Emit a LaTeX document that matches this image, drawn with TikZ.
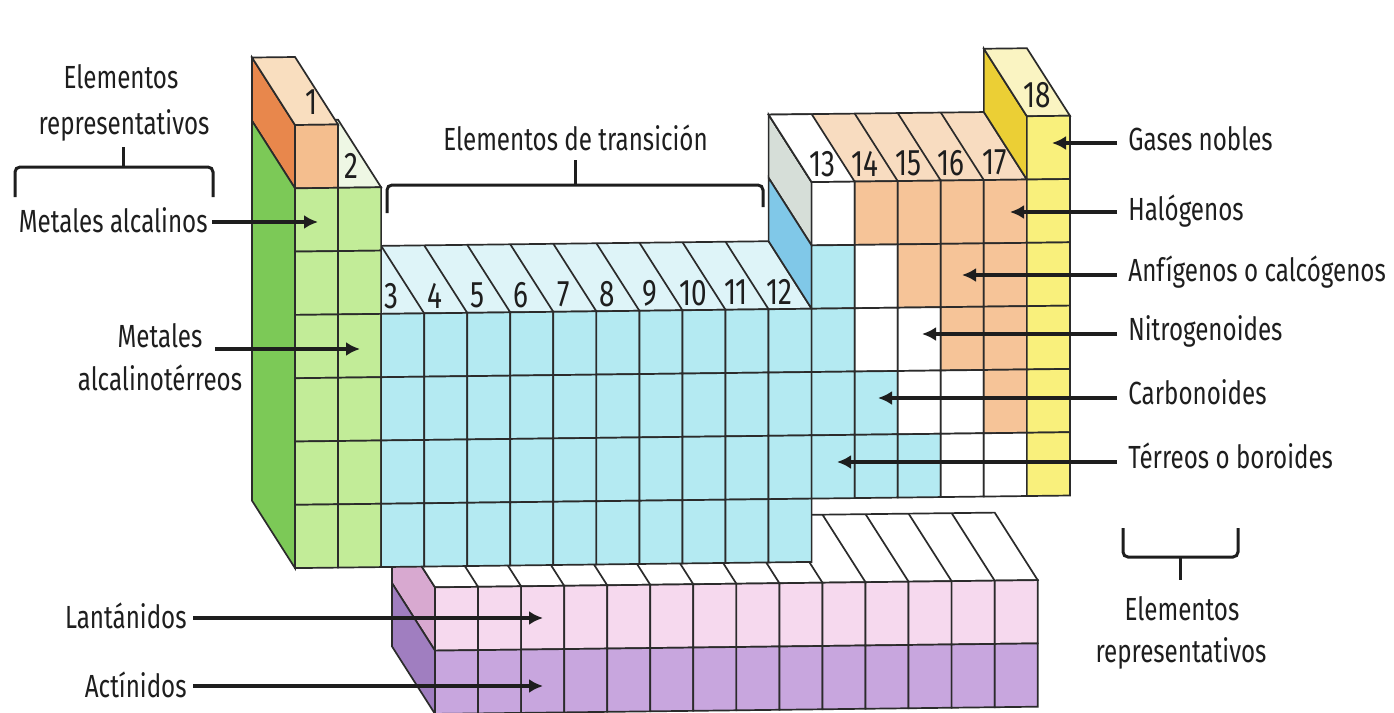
\documentclass[tikz,border=0pt]{standalone}
\usepackage{fontspec}
\setmainfont{Fira Sans}[FakeStretch=0.755]
\usetikzlibrary{arrows.meta}
\pgfmathdeclarefunction{cx}{1}{\pgfmathparse{295+43.05*(#1-1)}}
\pgfmathdeclarefunction{ry}{1}{\pgfmathparse{125+63.3*(#1-1)}}
\definecolor{gfront}{HTML}{C2EC98}
\definecolor{gside}{HTML}{7CC957}
\definecolor{hfront}{HTML}{F4BE8E}
\definecolor{hside}{HTML}{E8874C}
\definecolor{htop}{HTML}{F9DEBF}
\definecolor{gtop}{HTML}{EEF7E4}
\definecolor{cfront}{HTML}{B4EAF2}
\definecolor{ctop}{HTML}{DEF4F8}
\definecolor{cside}{HTML}{80C8E8}
\definecolor{wside}{HTML}{D6DED8}
\definecolor{pfront}{HTML}{F6C498}
\definecolor{ptop}{HTML}{F8DCC0}
\definecolor{yfront}{HTML}{F9F07C}
\definecolor{yside}{HTML}{EBCF35}
\definecolor{ytop}{HTML}{FAF4C2}
\definecolor{lfront}{HTML}{F6D9EE}
\definecolor{afront}{HTML}{C8A6DE}
\definecolor{lside}{HTML}{D8A9D0}
\definecolor{aside}{HTML}{A07EC0}
\definecolor{linec}{HTML}{2B2B2B}
\definecolor{ink}{HTML}{1E1E1E}
\begin{document}
\begin{tikzpicture}[x=0.5pt,y=-0.5pt,
  cell/.style={draw=linec,line width=0.85pt},
  face/.style={draw=linec,line width=0.85pt},
  lbl/.style={font=\fontsize{16}{19}\selectfont,inner sep=0pt,text=ink},
  num/.style={font=\fontsize{18.5}{20}\selectfont,inner sep=0pt,anchor=base,text=ink},
  arr/.style={draw=ink,line width=1.9pt,-{Latex[length=7pt,width=7pt]}},
  brk/.style={draw=ink,line width=1.5pt,rounded corners=2.5pt},
]
\fill[white] (0,0) rectangle (1394,713);
\useasboundingbox (0,0) rectangle (1394,713);

\begin{scope}[cm={1,0.012,0,1,(0pt,-1.77pt)}]
% ---------- lanthanide / actinide block ----------
\filldraw[face,fill=lside] (435,589) -- (392,521) -- (392,584.3) -- (435,652.3) -- cycle;
\filldraw[face,fill=aside] (435,652.3) -- (392,584.3) -- (392,647.6) -- (435,715.6) -- cycle;
\filldraw[face,fill=white] (435,589) -- (1037.7,589) -- (994.7,521) -- (392,521) -- cycle;
\foreach \j in {1,...,13} \draw[face] ({435+43.05*\j},589) -- ++(-43,-68);
\foreach \j in {0,...,13} {
  \filldraw[cell,fill=lfront] ({435+43.05*\j},589) rectangle ({435+43.05*(\j+1)},652.3);
  \filldraw[cell,fill=afront] ({435+43.05*\j},652.3) rectangle ({435+43.05*(\j+1)},715.6);
}
% ---------- main table: side and top faces ----------
\filldraw[face,fill=hside] ({cx(1)},{ry(1)}) -- ++(-43,-68) -- ++(0,63.3) -- ({cx(1)},{ry(2)}) -- cycle;
\filldraw[face,fill=gside] ({cx(1)},{ry(2)}) -- ++(-43,-68) -- ({cx(1)-43},{ry(8)-68}) -- ({cx(1)},{ry(8)}) -- cycle;
\filldraw[face,fill=gtop] ({cx(2)},{ry(2)}) -- ({cx(3)},{ry(2)}) -- ++(-43,-68) -- ({cx(2)-43},{ry(2)-68}) -- cycle;
\filldraw[face,fill=htop] ({cx(1)},{ry(1)}) -- ({cx(2)},{ry(1)}) -- ++(-43,-68) -- ({cx(1)-43},{ry(1)-68}) -- cycle;
\filldraw[face,fill=ctop] ({cx(3)},{ry(4)}) -- ({cx(13)},{ry(4)}) -- ++(-43,-68) -- ({cx(3)-43},{ry(4)-68}) -- cycle;
\foreach \g in {4,...,12} \draw[face] ({cx(\g)},{ry(4)}) -- ++(-43,-68);
\filldraw[face,fill=wside] ({cx(13)},{ry(2)}) -- ++(-43,-68) -- ++(0,63.3) -- ({cx(13)},{ry(3)}) -- cycle;
\filldraw[face,fill=cside] ({cx(13)},{ry(3)}) -- ++(-43,-68) -- ++(0,63.3) -- ({cx(13)},{ry(4)}) -- cycle;
\filldraw[face,fill=ptop] ({cx(13)},{ry(2)}) -- ({cx(18)},{ry(2)}) -- ++(-43,-68) -- ({cx(13)-43},{ry(2)-68}) -- cycle;
\filldraw[face,fill=white] ({cx(13)},{ry(2)}) -- ({cx(14)},{ry(2)}) -- ++(-43,-68) -- ({cx(13)-43},{ry(2)-68}) -- cycle;
\foreach \g in {15,...,17} \draw[face] ({cx(\g)},{ry(2)}) -- ++(-43,-68);
\filldraw[face,fill=yside] ({cx(18)},{ry(1)}) -- ++(-43,-68) -- ++(0,63.3) -- ({cx(18)},{ry(2)}) -- cycle;
\filldraw[face,fill=ytop] ({cx(18)},{ry(1)}) -- ({cx(19)},{ry(1)}) -- ++(-43,-68) -- ({cx(18)-43},{ry(1)-68}) -- cycle;
% ---------- front cells ----------
\filldraw[cell,fill=hfront] ({cx(1)},{ry(1)}) rectangle ({cx(2)},{ry(2)});
\foreach \g in {1,2} \foreach \p in {2,...,7}
  \filldraw[cell,fill=gfront] ({cx(\g)},{ry(\p)}) rectangle ({cx(\g+1)},{ry(\p+1)});
\foreach \g in {3,...,12} \foreach \p in {4,...,7}
  \filldraw[cell,fill=cfront] ({cx(\g)},{ry(\p)}) rectangle ({cx(\g+1)},{ry(\p+1)});
\foreach \g/\p/\c in {13/2/white,13/3/cfront,13/4/cfront,13/5/cfront,13/6/cfront,
  14/2/pfront,14/3/white,14/4/white,14/5/cfront,14/6/cfront,
  15/2/pfront,15/3/pfront,15/4/white,15/5/white,15/6/cfront,
  16/2/pfront,16/3/pfront,16/4/pfront,16/5/white,16/6/white,
  17/2/pfront,17/3/pfront,17/4/pfront,17/5/pfront,17/6/white}
  \filldraw[cell,fill=\c] ({cx(\g)},{ry(\p)}) rectangle ({cx(\g+1)},{ry(\p+1)});
\foreach \p in {1,...,6}
  \filldraw[cell,fill=yfront] ({cx(18)},{ry(\p)}) rectangle ({cx(19)},{ry(\p+1)});
% ---------- group numbers ----------
\node[num] (g1) at (312,115) {1};
\node[num] (g2) at (351.5,178.7) {2};
\foreach \g in {3,...,12} \node[num] (g\g) at ({cx(\g)+10.5},{ry(4)-5}) {\g};
\foreach \g in {13,...,17} \node[num] (g\g) at ({cx(\g)+10.5},{ry(2)-5}) {\g};
\node[num] (g18) at ({cx(18)+10},{ry(1)-9}) {18};
\end{scope}

% ---------- labels ----------
\node[lbl,anchor=base] (er1a) at (121,88) {Elementos};
\node[lbl,anchor=base] (er1b) at (124,134) {representativos};
\draw[brk] (15,197) -- (15,167) -- (213,167) -- (213,197);
\draw[brk,rounded corners=0pt] (123,167) -- (123,147);

\node[lbl,anchor=base east] (alc) at (208,232) {Metales alcalinos};
\coordinate (t-alc) at (318,222);
\draw[arr,shorten <=2pt] (alc.east |- t-alc) -- (t-alc);

\node[lbl,anchor=base] (alt1) at (160,347) {Metales};
\node[lbl,anchor=base] (alt2) at (160,390) {alcalinotérreos};
\coordinate (t-alt) at (360,349);
\draw[arr,shorten <=6pt] (alt1.east |- t-alt) -- (t-alt);

\node[lbl,anchor=base west] (trans) at (443,150) {Elementos de transición};
\draw[brk] (387,213) -- (387,185) -- (763,185) -- (763,207);
\draw[brk,rounded corners=0pt] (575,185) -- (575,160);

\node[lbl,anchor=base west] (gases) at (1128,150) {Gases nobles};
\node[lbl,anchor=base west] (halo) at (1128,220) {Halógenos};
\node[lbl,anchor=base west] (anfi) at (1128,281) {Anfígenos o calcógenos};
\node[lbl,anchor=base west] (nitro) at (1128,340) {Nitrogenoides};
\node[lbl,anchor=base west] (carbo) at (1128,404) {Carbonoides};
\node[lbl,anchor=base west] (terre) at (1128,468) {Térreos o boroides};
\coordinate (t-gases) at (1052,143);
\coordinate (t-halo) at (1010,212);
\coordinate (t-anfi) at (962,275);
\coordinate (t-nitro) at (922,334);
\coordinate (t-carbo) at (878,398);
\coordinate (t-terre) at (837,462);
\foreach \n in {gases,halo,anfi,nitro,carbo,terre}
  \draw[arr,shorten <=5.5pt] (\n.west |- t-\n) -- (t-\n);

\draw[brk] (1123,528) -- (1123,557) -- (1238,557) -- (1238,528);
\draw[brk,rounded corners=0pt] (1180,557) -- (1180,580);
\node[lbl,anchor=base] (er2a) at (1182,620) {Elementos};
\node[lbl,anchor=base] (er2b) at (1181,662) {representativos};

\node[lbl,anchor=base east] (lant) at (187,628) {Lantánidos};
\node[lbl,anchor=base east] (acti) at (187,697) {Actínidos};
\coordinate (t-lant) at (543,618);
\coordinate (t-acti) at (543,686);
\draw[arr,shorten <=3pt] (lant.east |- t-lant) -- (t-lant);
\draw[arr,shorten <=3pt] (acti.east |- t-acti) -- (t-acti);
\end{tikzpicture}
\end{document}
